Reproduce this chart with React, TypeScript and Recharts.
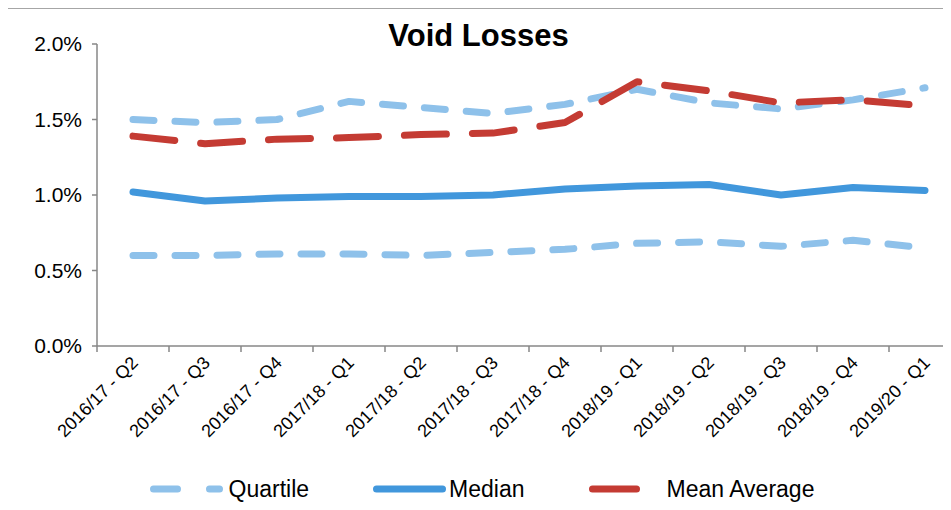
import { LineChart, Line, XAxis, YAxis, Legend } from "recharts";

// quarters shown on the x axis
const categories = [
  "2016/17 - Q2",
  "2016/17 - Q3",
  "2016/17 - Q4",
  "2017/18 - Q1",
  "2017/18 - Q2",
  "2017/18 - Q3",
  "2017/18 - Q4",
  "2018/19 - Q1",
  "2018/19 - Q2",
  "2018/19 - Q3",
  "2018/19 - Q4",
  "2019/20 - Q1",
];

// values in %
const upperQuartile = [1.5, 1.48, 1.5, 1.62, 1.58, 1.54, 1.6, 1.7, 1.61, 1.57, 1.63, 1.71];
const median = [1.02, 0.96, 0.98, 0.99, 0.99, 1.0, 1.04, 1.06, 1.07, 1.0, 1.05, 1.03];
const lowerQuartile = [0.6, 0.6, 0.61, 0.61, 0.6, 0.62, 0.64, 0.68, 0.69, 0.66, 0.7, 0.65];
const meanAverage = [1.39, 1.34, 1.37, 1.38, 1.4, 1.41, 1.48, 1.75, 1.69, 1.61, 1.63, 1.59];

const yTicks = [0, 0.5, 1, 1.5, 2];
const boundaryTicks = [0, 1, 2, 3, 4, 5, 6, 7, 8, 9, 10, 11, 12];

const LIGHT_BLUE = "#8EC1EA";
const BLUE = "#4197DC";
const RED = "#C43B33";
const AXIS = "#878787";
const FONT = "'Liberation Sans', Arial, sans-serif";

const CHART_W = 975;
const CHART_H = 510;
const Y_AXIS_W = 97;
const MARGIN = { top: 44, right: 14, left: 0, bottom: 6 };
const HALF_BAND = (CHART_W - MARGIN.right - MARGIN.left - Y_AXIS_W) / categories.length / 2;

const data = categories.map((name, i) => ({
  name,
  pos: i + 0.5,
  upper: upperQuartile[i],
  lower: lowerQuartile[i],
  median: median[i],
  mean: meanAverage[i],
}));

function QuarterTick(props: any) {
  const { x, y, payload } = props;
  const label = categories[payload.value];
  if (!label) return <g />;
  const tx = x + HALF_BAND + 6;
  const ty = y + 10;
  return (
    <text
      x={tx}
      y={ty}
      textAnchor="end"
      fill="#000"
      fontSize={18}
      fontFamily={FONT}
      transform={`rotate(-45, ${tx}, ${ty})`}
    >
      {label}
    </text>
  );
}

const legendItems = [
  { label: "Quartile", color: LIGHT_BLUE, dash: "24 32", gap: 6 },
  { label: "Median", color: BLUE, dash: undefined, gap: 3 },
  { label: "Mean Average", color: RED, dash: "44 60", gap: 5 },
];

function LegendContent() {
  return (
    <div
      style={{
        display: "flex",
        justifyContent: "center",
        alignItems: "center",
        gap: 64,
        height: 30,
        paddingLeft: 3,
        fontFamily: FONT,
        fontSize: 23,
        color: "#000",
      }}
    >
      {legendItems.map((it) => (
        <div key={it.label} style={{ display: "flex", alignItems: "center" }}>
          <svg width={73} height={12} style={{ marginRight: it.gap }}>
            <line
              x1={3.5}
              y1={6}
              x2={69.5}
              y2={6}
              stroke={it.color}
              strokeWidth={7}
              strokeLinecap="round"
              strokeDasharray={it.dash}
            />
          </svg>
          <span>{it.label}</span>
        </div>
      ))}
    </div>
  );
}

export default function App() {
  return (
    <div
      style={{
        position: "relative",
        width: 951,
        height: 510,
        margin: -8,
        overflow: "hidden",
        background: "#fff",
      }}
    >
      <div
        style={{
          position: "absolute",
          left: 4,
          top: 7,
          width: 1000,
          height: 600,
          border: "2px solid #a6a6a6",
        }}
      />
      <div
        style={{
          position: "absolute",
          top: 20,
          left: 0,
          width: 957,
          textAlign: "center",
          fontFamily: FONT,
          fontWeight: "bold",
          fontSize: 31,
          lineHeight: "31px",
        }}
      >
        Void Losses
      </div>
      <div style={{ position: "absolute", left: 0, top: 0 }}>
        <LineChart width={CHART_W} height={CHART_H} data={data} margin={MARGIN}>
          <XAxis
            dataKey="pos"
            type="number"
            domain={[0, 12]}
            ticks={boundaryTicks}
            interval={0}
            height={128}
            tickSize={6}
            tick={<QuarterTick />}
            axisLine={{ stroke: AXIS, strokeWidth: 1.5 }}
            tickLine={{ stroke: AXIS, strokeWidth: 1.5 }}
          />
          <YAxis
            width={Y_AXIS_W}
            domain={[0, 2]}
            ticks={yTicks}
            interval={0}
            tickSize={5}
            tickMargin={10}
            tickFormatter={(v: number) => `${v.toFixed(1)}%`}
            tick={{ fill: "#000", fontSize: 21, fontFamily: FONT }}
            axisLine={{ stroke: AXIS, strokeWidth: 1.5 }}
            tickLine={{ stroke: AXIS, strokeWidth: 1.5 }}
          />
          <Legend verticalAlign="bottom" height={30} content={<LegendContent />} />
          <Line
            dataKey="upper"
            stroke={LIGHT_BLUE}
            strokeWidth={7}
            strokeDasharray="21 21"
            strokeLinecap="round"
            strokeLinejoin="round"
            dot={false}
            activeDot={false}
            isAnimationActive={false}
          />
          <Line
            dataKey="lower"
            stroke={LIGHT_BLUE}
            strokeWidth={7}
            strokeDasharray="21 21"
            strokeLinecap="round"
            strokeLinejoin="round"
            dot={false}
            activeDot={false}
            isAnimationActive={false}
          />
          <Line
            dataKey="median"
            stroke={BLUE}
            strokeWidth={7}
            strokeLinecap="round"
            strokeLinejoin="round"
            dot={false}
            activeDot={false}
            isAnimationActive={false}
          />
          <Line
            dataKey="mean"
            stroke={RED}
            strokeWidth={7}
            strokeDasharray="42 26"
            strokeLinecap="round"
            strokeLinejoin="round"
            dot={false}
            activeDot={false}
            isAnimationActive={false}
          />
        </LineChart>
      </div>
    </div>
  );
}
